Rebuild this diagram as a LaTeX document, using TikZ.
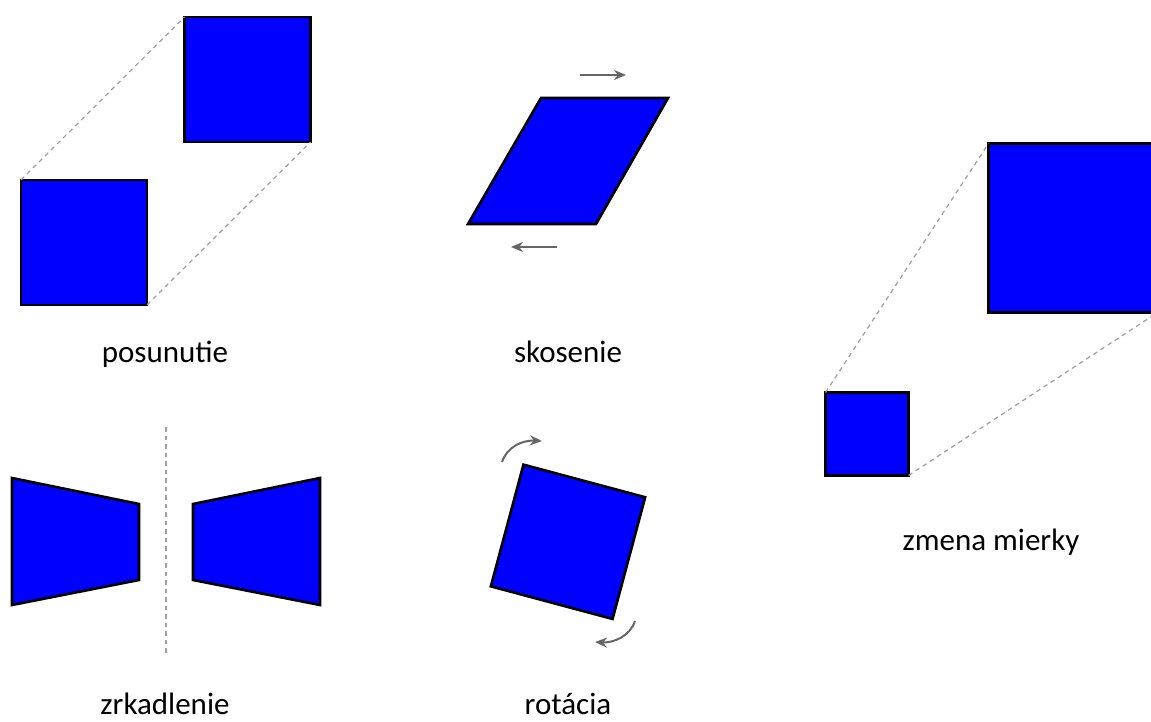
\documentclass[tikz,border=0pt]{standalone}
\usepackage{fontspec}
\setmainfont{Carlito}
\usepackage{tikz}
\usetikzlibrary{arrows.meta,calc,positioning}
\definecolor{modra}{rgb}{0,0,1}
\definecolor{sedaciara}{rgb}{0.62,0.62,0.62}
\definecolor{sedasipka}{rgb}{0.4,0.4,0.4}
\tikzset{
  tvar/.style={
    draw=black,
    fill=modra,
    line width=2.6pt,
    line join=miter,
    inner sep=0pt,
    outer sep=0pt
  },
  pomocna/.style={
    draw=sedaciara,
    line width=1.2pt,
    dash pattern=on 4.5pt off 4pt
  },
  sipka/.style={
    -{Stealth[length=12pt,width=10pt]},
    line width=2pt,
    sedasipka
  },
  popis/.style={
    anchor=base,
    inner sep=0pt,
    font=\fontsize{31}{36}\selectfont
  }
}

\begin{document}
\begin{tikzpicture}[x=1pt,y=-1pt]
\useasboundingbox (0,0) rectangle (1151,722);
% posunutie
\node[tvar,minimum width=126pt,minimum height=125pt] (p1) at (84,242.5) {};
\node[tvar,minimum width=126pt,minimum height=125pt] (p2) at (247.5,79.5) {};
\draw[pomocna] (p1.north west) -- (p2.north west);
\draw[pomocna] (p1.south east) -- (p2.south east);
\node[popis] (lp) at (165,362) {posunutie};
% skosenie
\coordinate (s1) at (468,224);
\coordinate (s2) at (596,224);
\coordinate (s3) at (668,98);
\coordinate (s4) at (541,98);
\draw[tvar] (s1) -- (s2) -- (s3) -- (s4) -- cycle;
\coordinate (sa1) at (580,75);
\coordinate (sa2) at (626,75);
\coordinate (sb1) at (557,247);
\coordinate (sb2) at (511,247);
\draw[sipka] (sa1) -- (sa2);
\draw[sipka] (sb1) -- (sb2);
\node[popis] (ls) at (568,362) {skosenie};
% zmena mierky
\node[tvar,minimum width=83pt,minimum height=83pt] (m1) at (867,434) {};
\node[tvar,minimum width=169pt,minimum height=169pt] (m2) at (1073,228) {};
\draw[pomocna] (m1.north west) -- (m2.north west);
\draw[pomocna] (m1.south east) -- (m2.south east);
\node[popis] (lm) at (991,550) {zmena mierky};
% zrkadlenie
\coordinate (z0) at (166,427);
\coordinate (z9) at (166,656);
\draw[pomocna] (z0) -- (z9);
\draw[tvar] (12,478) -- (139,504) -- (139,580) -- (12,605) -- cycle;
\draw[tvar] (320,478) -- (193,504) -- (193,580) -- (320,605) -- cycle;
\node[popis] (lz) at (165,714) {zrkadlenie};
% rotacia
\node[tvar,minimum width=126pt,minimum height=126pt,rotate=-15] (r) at (568,541.8) {};
\coordinate (ra1) at (502,462);
\coordinate (ra2) at (542,441);
\coordinate (rb1) at (635,621);
\coordinate (rb2) at (595,642);
\draw[sipka] (ra1) .. controls (507,447) and (522,440) .. (ra2);
\draw[sipka] (rb1) .. controls (630,636) and (614,643) .. (rb2);
\node[popis] (lr) at (568,714) {rotácia};
\end{tikzpicture}
\end{document}
